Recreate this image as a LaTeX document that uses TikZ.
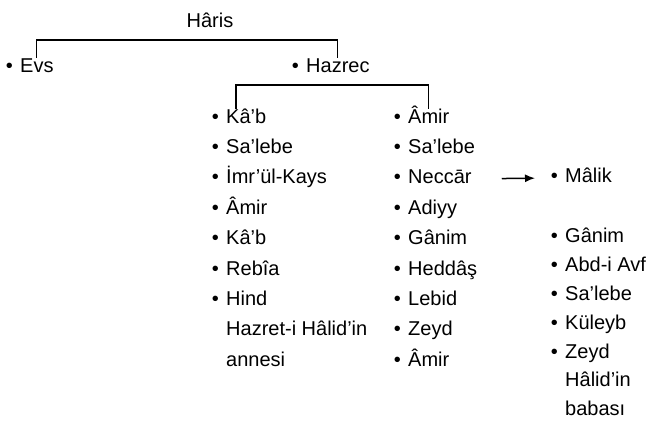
\documentclass[tikz,border=0pt]{standalone}
\usepackage{fontspec}
\setmainfont{Liberation Sans}
\usetikzlibrary{arrows.meta,positioning}

\begin{document}
\begin{tikzpicture}[
  x=1pt, y=1pt,
  node distance=11pt,
  label distance=7pt,
  note/.style={inner sep=0pt, text height=14pt, text depth=5pt,
    font=\fontsize{20}{24}\selectfont},
  blt/.style={inner sep=0pt, font=\fontsize{20}{24}\selectfont},
  item/.style={note, label={[blt]left:\textbullet}},
  under/.style={below=of #1.south west, anchor=north west},
  link/.style={line width=1.2pt},
  arrow/.style={-{Latex[length=10pt,width=8pt]}, line width=1.5pt}
]
  \useasboundingbox (0,0) rectangle (648,-421);

  % top of the tree
  \node[note, anchor=base] (haris) at (210,-27) {Hâris};
  \node[item, anchor=base west] (evs) at (20,-72) {Evs};
  \node[item, anchor=base west] (hazrec) at (306,-72) {Hazrec};

  % first branch of Hazrec
  \node[item, anchor=base west] (kab1) at (226,-123) {Kâ'b};
  \node[item, under=kab1] (salebe1) {Sa'lebe};
  \node[item, under=salebe1] (imrulkays) {İmr’ül-Kays};
  \node[item, under=imrulkays] (amir1) {Âmir};
  \node[item, under=amir1] (kab2) {Kâ'b};
  \node[item, under=kab2] (rebia) {Rebîa};
  \node[item, under=rebia] (hind) {Hind};
  \node[note, under=hind] (hindnote1) {Hazret-i Hâlid'in};
  \node[note, under=hindnote1] (hindnote2) {annesi};

  % second branch of Hazrec
  \node[item, anchor=base west] (amir2) at (408,-123) {Âmir};
  \node[item, under=amir2] (salebe2) {Sa'lebe};
  \node[item, under=salebe2] (neccar) {Neccār};
  \node[item, under=neccar] (adiyy) {Adiyy};
  \node[item, under=adiyy] (ganim1) {Gânim};
  \node[item, under=ganim1] (heddas) {Heddâş};
  \node[item, under=heddas] (lebid) {Lebid};
  \node[item, under=lebid] (zeyd1) {Zeyd};
  \node[item, under=zeyd1] (amir3) {Âmir};

  % line of Neccar
  \node[item, anchor=base west] (malik) at (565,-182) {Mâlik};
  \node[item, below=41pt of malik.south west, anchor=north west] (ganim2) {Gânim};
  \begin{scope}[node distance=9.5pt]
    \node[item, under=ganim2] (abdiavf) {Abd-i Avf};
    \node[item, under=abdiavf] (salebe3) {Sa'lebe};
    \node[item, under=salebe3] (kuleyb) {Küleyb};
    \node[item, under=kuleyb] (zeyd2) {Zeyd};
    \node[note, under=zeyd2] (zeydnote1) {Hâlid'in};
    \node[note, under=zeydnote1] (zeydnote2) {babası};
  \end{scope}

  \coordinate[below=13pt of haris.base] (topbar);
  \coordinate[below=13pt of hazrec.base] (subbar);

  \draw[link] (evs.north) |- (topbar) -| (hazrec.north);
  \draw[link] ([xshift=10pt]kab1.north west) |- (subbar) -| (amir2.north);
  \draw[arrow, shorten <=30pt, shorten >=30pt] (neccar) -- (malik);
\end{tikzpicture}
\end{document}
